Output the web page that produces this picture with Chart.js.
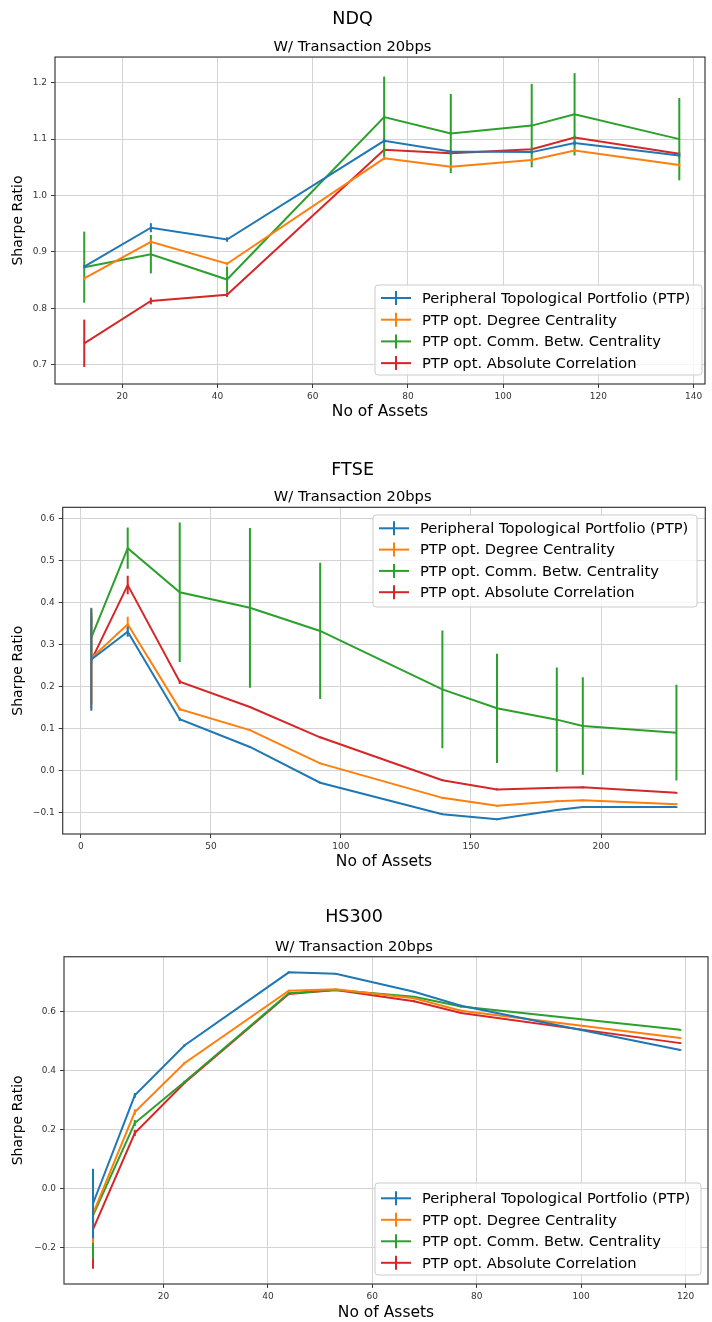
<!DOCTYPE html>
<html><head><meta charset="utf-8">
<script src="https://cdn.jsdelivr.net/npm/chart.js@4.4.1/dist/chart.umd.min.js"></script>
<style>
html,body{margin:0;padding:0;background:#fff;}
body{width:712px;height:1322px;position:relative;overflow:hidden;}
canvas{position:absolute;left:0;}
</style></head><body>
<canvas id="c1" width="712" height="440" style="top:0px"></canvas>
<canvas id="c2" width="712" height="440" style="top:440px"></canvas>
<canvas id="c3" width="712" height="442" style="top:880px"></canvas>
<script>
// ---------- data ----------
const seriesLabels = ['Peripheral Topological Portfolio (PTP)', 'PTP opt. Degree Centrality', 'PTP opt. Comm. Betw. Centrality', 'PTP opt. Absolute Correlation'];
const seriesColors = ['#1f77b4', '#ff7f0e', '#2ca02c', '#d62728'];

// NDQ
const ndqX = [12, 26, 42, 75, 89, 106, 115, 137];
const ndqPTP = [0.874, 0.943, 0.922, 1.097, 1.078, 1.077, 1.093, 1.071];
const ndqPTPErr = [0.003, 0.008, 0.004, 0.004, 0.003, 0.003, 0.004, 0.003];
const ndqDeg = [0.853, 0.918, 0.879, 1.066, 1.051, 1.063, 1.080, 1.054];
const ndqDegErr = [0.003, 0.004, 0.003, 0.003, 0.003, 0.003, 0.003, 0.003];
const ndqBetw = [0.873, 0.896, 0.851, 1.139, 1.110, 1.124, 1.144, 1.100];
const ndqBetwErr = [0.063, 0.034, 0.023, 0.072, 0.070, 0.074, 0.073, 0.073];
const ndqCorr = [0.738, 0.813, 0.824, 1.081, 1.075, 1.082, 1.103, 1.074];
const ndqCorrErr = [0.042, 0.006, 0.004, 0.004, 0.003, 0.003, 0.003, 0.003];
const ndqXTicks = [20, 40, 60, 80, 100, 120, 140];
const ndqYTicks = [0.7, 0.8, 0.9, 1.0, 1.1, 1.2];

// FTSE
const ftseX = [4, 18, 38, 65, 92, 139, 160, 183, 193, 229];
const ftsePTP = [0.264, 0.330, 0.122, 0.056, -0.029, -0.104, -0.116, -0.094, -0.087, -0.087];
const ftsePTPErr = [0.122, 0.012, 0.004, 0.002, 0.002, 0.002, 0.002, 0.002, 0.002, 0.002];
const ftseDeg = [0.267, 0.348, 0.146, 0.096, 0.017, -0.065, -0.084, -0.073, -0.071, -0.080];
const ftseDegErr = [0.120, 0.018, 0.004, 0.002, 0.002, 0.002, 0.002, 0.002, 0.002, 0.002];
const ftseBetw = [0.316, 0.529, 0.424, 0.387, 0.332, 0.193, 0.148, 0.121, 0.106, 0.090];
const ftseBetwErr = [0.060, 0.049, 0.166, 0.190, 0.162, 0.140, 0.130, 0.124, 0.116, 0.114];
const ftseCorr = [0.262, 0.441, 0.211, 0.151, 0.079, -0.023, -0.045, -0.041, -0.040, -0.053];
const ftseCorrErr = [0.105, 0.022, 0.005, 0.002, 0.002, 0.002, 0.002, 0.002, 0.002, 0.002];
const ftseXTicks = [0, 50, 100, 150, 200];
const ftseYTicks = [-0.1, 0.0, 0.1, 0.2, 0.3, 0.4, 0.5, 0.6];

// HS300
const hsX = [6.5, 14.5, 24, 44, 53, 68, 77, 119];
const hsPTP = [-0.051, 0.316, 0.485, 0.733, 0.728, 0.667, 0.620, 0.470];
const hsPTPErr = [0.118, 0.008, 0.004, 0.003, 0.003, 0.003, 0.003, 0.003];
const hsDeg = [-0.085, 0.259, 0.425, 0.671, 0.676, 0.645, 0.603, 0.510];
const hsDegErr = [0.100, 0.010, 0.004, 0.003, 0.003, 0.003, 0.003, 0.003];
const hsBetw = [-0.091, 0.222, 0.361, 0.662, 0.673, 0.650, 0.617, 0.538];
const hsBetwErr = [0.147, 0.010, 0.004, 0.003, 0.003, 0.003, 0.003, 0.003];
const hsCorr = [-0.139, 0.188, 0.358, 0.660, 0.673, 0.635, 0.595, 0.493];
const hsCorrErr = [0.133, 0.010, 0.004, 0.003, 0.003, 0.003, 0.003, 0.003];
const hsXTicks = [20, 40, 60, 80, 100, 120];
const hsYTicks = [-0.2, 0.0, 0.2, 0.4, 0.6];

// ---------- rendering ----------
const FF = "'DejaVu Sans', 'Liberation Sans', sans-serif";

const errorBars = {
  id: 'errorBars',
  afterDatasetDraw(chart, args) {
    const ds = chart.data.datasets[args.index];
    if (!ds.errors) return;
    const ctx = chart.ctx, xS = chart.scales.x, yS = chart.scales.y, a = chart.chartArea;
    ctx.save();
    ctx.beginPath(); ctx.rect(a.left, a.top, a.right - a.left, a.bottom - a.top); ctx.clip();
    ctx.strokeStyle = ds.borderColor; ctx.lineWidth = 2; ctx.lineCap = 'butt';
    ds.data.forEach((p, i) => {
      const e = ds.errors[i];
      const px = xS.getPixelForValue(p.x);
      ctx.beginPath();
      ctx.moveTo(px, yS.getPixelForValue(p.y - e));
      ctx.lineTo(px, yS.getPixelForValue(p.y + e));
      ctx.stroke();
    });
    ctx.restore();
  }
};

const frame = {
  id: 'frame',
  afterDatasetsDraw(chart) {
    const a = chart.chartArea, ctx = chart.ctx;
    ctx.save(); ctx.strokeStyle = '#3a3a3a'; ctx.lineWidth = 1.2;
    ctx.strokeRect(a.left, a.top, a.right - a.left, a.bottom - a.top);
    ctx.restore();
  }
};

const boxLegend = {
  id: 'boxLegend',
  afterDraw(chart, args, o) {
    const ctx = chart.ctx;
    ctx.save();
    const r = 3, L = o.left, T = o.top, W = o.width, H = o.height;
    ctx.beginPath();
    ctx.moveTo(L + r, T); ctx.lineTo(L + W - r, T); ctx.quadraticCurveTo(L + W, T, L + W, T + r);
    ctx.lineTo(L + W, T + H - r); ctx.quadraticCurveTo(L + W, T + H, L + W - r, T + H);
    ctx.lineTo(L + r, T + H); ctx.quadraticCurveTo(L, T + H, L, T + H - r);
    ctx.lineTo(L, T + r); ctx.quadraticCurveTo(L, T, L + r, T); ctx.closePath();
    ctx.fillStyle = 'rgba(255,255,255,0.8)'; ctx.fill();
    ctx.strokeStyle = '#cccccc'; ctx.lineWidth = 1; ctx.stroke();
    ctx.font = '14.7px ' + FF; ctx.textBaseline = 'middle'; ctx.fillStyle = '#000';
    chart.data.datasets.forEach((ds, i) => {
      const cy = T + o.firstRow + o.rowStep * i;
      ctx.strokeStyle = ds.borderColor; ctx.lineWidth = 2;
      ctx.beginPath(); ctx.moveTo(L + 6, cy); ctx.lineTo(L + 36, cy); ctx.stroke();
      ctx.beginPath(); ctx.moveTo(L + 21, cy - 7); ctx.lineTo(L + 21, cy + 7); ctx.stroke();
      ctx.fillText(ds.label, L + 47, cy + 1);
    });
    ctx.restore();
  }
};

function fmtY(v) {
  const s = Math.abs(v).toFixed(1);
  return (v < -1e-9 ? '\u2212' : '') + s;
}

function makeChart(id, c) {
  const datasets = c.series.map((ys, k) => ({
    label: seriesLabels[k],
    data: c.xs.map((x, i) => ({ x: x, y: ys[i] })),
    errors: c.errs[k],
    borderColor: seriesColors[k],
    backgroundColor: seriesColors[k],
    borderWidth: 2, pointRadius: 0, tension: 0, fill: false
  }));
  return new Chart(document.getElementById(id), {
    type: 'line',
    data: { datasets },
    plugins: [errorBars, frame, boxLegend],
    options: {
      responsive: false, animation: false, devicePixelRatio: 1,
      layout: { padding: { left: 0, right: c.padRight, top: 0, bottom: c.padBottom }, autoPadding: false },
      plugins: {
        legend: { display: false }, tooltip: { enabled: false },
        title: { display: true, text: c.title, color: '#000', font: { family: FF, size: 17.5, weight: 'normal', lineHeight: 1.2 }, padding: { top: c.titleTop, bottom: 0 } },
        subtitle: { display: true, text: 'W/ Transaction 20bps', color: '#000', font: { family: FF, size: 14.7, weight: 'normal', lineHeight: 1.2 }, padding: { top: c.subTop, bottom: c.subBottom } },
        boxLegend: c.legend
      },
      scales: {
        x: {
          type: 'linear', min: c.xMin, max: c.xMax,
          afterBuildTicks: s => { s.ticks = c.xTicks.map(v => ({ value: v })); },
          afterFit: s => { s.height = c.xAxisH; },
          ticks: { font: { family: FF, size: 9 }, color: '#333', padding: 3, maxRotation: 0, autoSkip: false, callback: v => String(v) },
          grid: { color: '#d4d4d4', lineWidth: 1, tickLength: 4, tickColor: '#3a3a3a', tickWidth: 1 },
          border: { display: false },
          title: { display: true, text: 'No of Assets', color: '#000', font: { family: FF, size: 15.5, lineHeight: 1.2 }, padding: { top: 0, bottom: 0 } }
        },
        y: {
          type: 'linear', min: c.yMin, max: c.yMax,
          afterBuildTicks: s => { s.ticks = c.yTicks.map(v => ({ value: v })); },
          afterFit: s => { s.width = c.yAxisW; },
          ticks: { font: { family: FF, size: 9 }, color: '#333', padding: 4, autoSkip: false, callback: v => fmtY(v) },
          grid: { color: '#d4d4d4', lineWidth: 1, tickLength: 4, tickColor: '#3a3a3a', tickWidth: 1 },
          border: { display: false },
          title: { display: true, text: 'Sharpe Ratio', color: '#000', font: { family: FF, size: 14, lineHeight: 1.2 }, padding: { top: 10, bottom: 0 } }
        }
      }
    }
  });
}

makeChart('c1', {
  title: 'NDQ', xs: ndqX,
  series: [ndqPTP, ndqDeg, ndqBetw, ndqCorr], errs: [ndqPTPErr, ndqDegErr, ndqBetwErr, ndqCorrErr],
  xTicks: ndqXTicks, yTicks: ndqYTicks,
  xMin: 5.86, xMax: 142.4, yMin: 0.6658, yMax: 1.2456,
  padRight: 7, padBottom: 19, xAxisH: 37, yAxisW: 55,
  titleTop: 8.5, subTop: 9.0, subBottom: 0.9,
  legend: { left: 375, top: 285, width: 327, height: 90, firstRow: 13, rowStep: 21.7 }
});
makeChart('c2', {
  title: 'FTSE', xs: ftseX,
  series: [ftsePTP, ftseDeg, ftseBetw, ftseCorr], errs: [ftsePTPErr, ftseDegErr, ftseBetwErr, ftseCorrErr],
  xTicks: ftseXTicks, yTicks: ftseYTicks,
  xMin: -7.0, xMax: 240.1, yMin: -0.151, yMax: 0.626,
  padRight: 6.7, padBottom: 9, xAxisH: 37, yAxisW: 62.7,
  titleTop: 19.5, subTop: 7.4, subBottom: 1.8,
  legend: { left: 373, top: 75, width: 324, height: 92, firstRow: 13.3, rowStep: 21.3 }
});
makeChart('c3', {
  title: 'HS300', xs: hsX,
  series: [hsPTP, hsDeg, hsBetw, hsCorr], errs: [hsPTPErr, hsDegErr, hsBetwErr, hsCorrErr],
  xTicks: hsXTicks, yTicks: hsYTicks,
  xMin: 0.94, xMax: 124.3, yMin: -0.324, yMax: 0.786,
  padRight: 4, padBottom: 0, xAxisH: 38, yAxisW: 64,
  titleTop: 26.5, subTop: 10.4, subBottom: 1.2,
  legend: { left: 375, top: 303, width: 326, height: 92, firstRow: 15.3, rowStep: 21.5 }
});
</script>
</body></html>
